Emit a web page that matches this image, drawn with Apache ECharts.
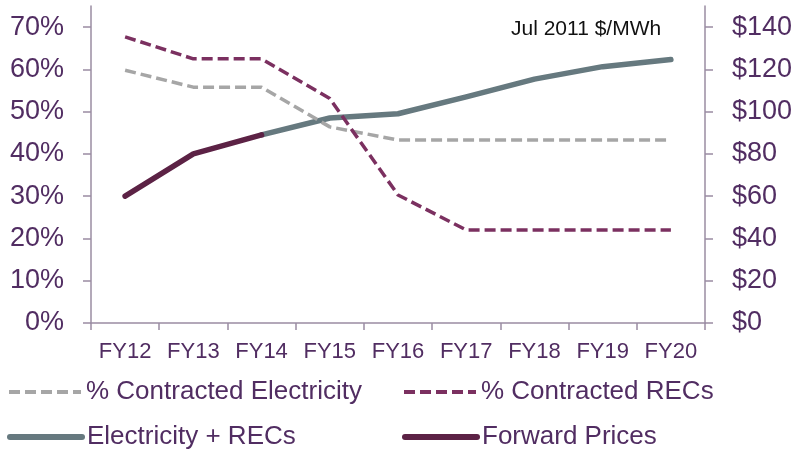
<!DOCTYPE html>
<html>
<head>
<meta charset="utf-8">
<script src="https://cdn.jsdelivr.net/npm/echarts@6/dist/echarts.min.js"></script>
<style>html,body{margin:0;padding:0;background:#fff}#c{width:798px;height:452px}</style>
</head>
<body>
<div id="c"></div>
<script>
const categories = ['FY12','FY13','FY14','FY15','FY16','FY17','FY18','FY19','FY20'];
const contractedElectricity = [59.8, 55.8, 55.8, 46.4, 43.3, 43.3, 43.3, 43.3, 43.3];
const contractedRECs = [67.7, 62.5, 62.5, 53.1, 30.3, 22.0, 22.0, 22.0, 22.0];
const electricityRECs = [null, null, 89, 97, 99, 107, 115.4, 121.3, 124.7];
const forwardPrices = [60, 80, 89, null, null, null, null, null, null];
const leftTicks = [0, 10, 20, 30, 40, 50, 60, 70];
const rightTicks = [0, 20, 40, 60, 80, 100, 120, 140];

const textColor = '#512d62';
const axisColor = '#9a8ca2';
const font = 'Liberation Sans, Arial, sans-serif';

const C_ELEC = '#a6a6a6', C_RECS = '#7b3060', C_BOTH = '#66797f', C_FWD = '#5c2245';

function leg(name, left, top, color, width, type) {
  return {
    left: left, top: top, padding: 0, orient: 'horizontal', itemWidth: 72, itemHeight: 14,
    itemStyle: {opacity: 0},
    lineStyle: {color: color, width: width, type: type, cap: type === 'solid' ? 'round' : 'butt'},
    textStyle: {color: textColor, fontSize: 26, fontFamily: font},
    data: [name]
  };
}

const chart = echarts.init(document.getElementById('c'), null, {renderer: 'canvas'});
chart.setOption({
  animation: false,
  backgroundColor: '#ffffff',
  textStyle: {fontFamily: font},
  grid: {left: 91, right: 93, top: 6, bottom: 129, containLabel: false},
  xAxis: {
    type: 'category',
    data: categories,
    boundaryGap: true,
    axisLine: {lineStyle: {color: axisColor, width: 1.5}},
    axisTick: {show: true, length: 7, lineStyle: {color: axisColor, width: 1.5}},
    axisLabel: {color: textColor, fontSize: 22, fontFamily: font, margin: 18, interval: 0}
  },
  yAxis: [{
    type: 'value', min: 0, max: 75, interval: 10,
    splitLine: {show: false},
    axisLine: {show: true, lineStyle: {color: axisColor, width: 1.5}},
    axisTick: {show: true, length: 8, customValues: leftTicks, lineStyle: {color: axisColor, width: 1.5}},
    axisLabel: {color: textColor, fontSize: 27, fontFamily: font, margin: 27, customValues: leftTicks, formatter: v => v + '%'}
  }, {
    type: 'value', min: 0, max: 150, interval: 20,
    position: 'right',
    splitLine: {show: false},
    axisLine: {show: true, lineStyle: {color: axisColor, width: 1.5}},
    axisTick: {show: true, length: 8, customValues: rightTicks, lineStyle: {color: axisColor, width: 1.5}},
    axisLabel: {color: textColor, fontSize: 27, fontFamily: font, margin: 27, customValues: rightTicks, formatter: v => '$' + v}
  }],
  legend: [
    leg('% Contracted Electricity', 7, 379, C_ELEC, 4, [11, 5]),
    leg('Electricity + RECs', 7, 424, C_BOTH, 6, 'solid'),
    leg('% Contracted RECs', 402, 379, C_RECS, 4, [11, 5]),
    leg('Forward Prices', 402, 424, C_FWD, 6, 'solid')
  ],
  graphic: [{
    type: 'text', left: 511, top: 19,
    style: {text: 'Jul 2011 $/MWh', fill: '#111111', font: '21px Liberation Sans, Arial, sans-serif'}
  }],
  series: [{
    name: 'Electricity + RECs', type: 'line', yAxisIndex: 1, data: electricityRECs,
    symbol: 'none', color: C_BOTH,
    lineStyle: {width: 5.5, color: C_BOTH, cap: 'round', join: 'round'}
  }, {
    name: 'Forward Prices', type: 'line', yAxisIndex: 1, data: forwardPrices,
    symbol: 'none', color: C_FWD,
    lineStyle: {width: 5.5, color: C_FWD, cap: 'round', join: 'round'}
  }, {
    name: '% Contracted Electricity', type: 'line', yAxisIndex: 0, data: contractedElectricity,
    symbol: 'none', color: C_ELEC,
    lineStyle: {width: 3.5, color: C_ELEC, type: [11, 5], join: 'round'}
  }, {
    name: '% Contracted RECs', type: 'line', yAxisIndex: 0, data: contractedRECs,
    symbol: 'none', color: C_RECS,
    lineStyle: {width: 3.5, color: C_RECS, type: [11, 5], join: 'round'}
  }]
});
</script>
</body>
</html>
